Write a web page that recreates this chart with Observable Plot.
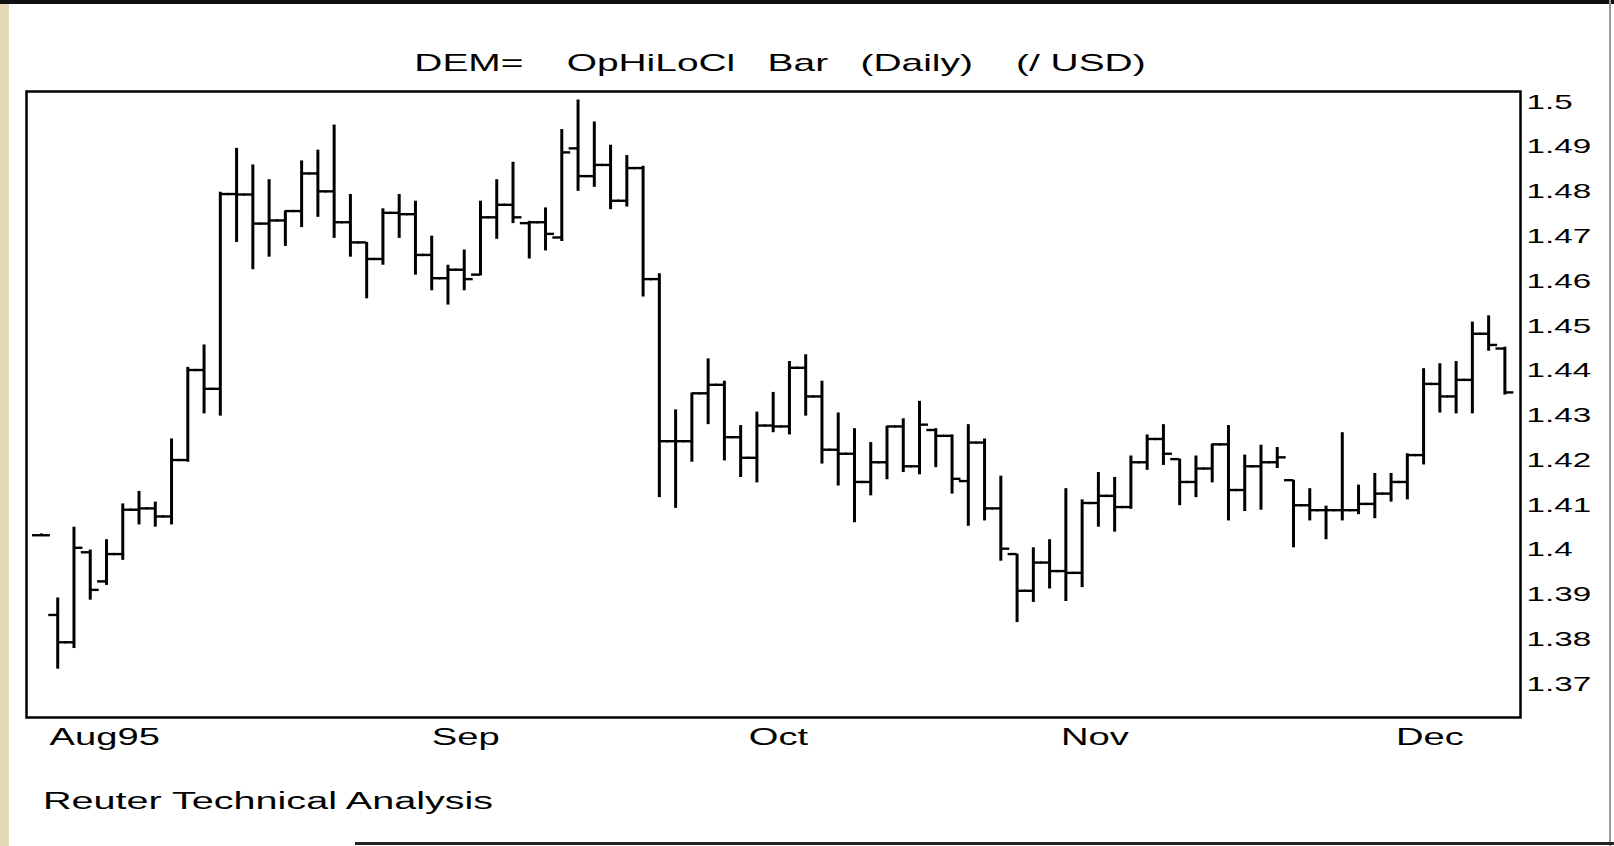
<!DOCTYPE html>
<html><head><meta charset="utf-8">
<script src="https://cdn.jsdelivr.net/npm/d3@7"></script>
<script src="https://cdn.jsdelivr.net/npm/@observablehq/plot@0.6"></script>
<style>
html,body{margin:0;padding:0;background:#fff;}
#page{position:relative;width:1614px;height:846px;overflow:hidden;background:#fff;font-family:"Liberation Sans",Arial,Helvetica,sans-serif;color:#000;}
#strip{position:absolute;left:0;top:0;width:9px;height:846px;background:#e4d8b6;}
#topline{position:absolute;left:0;top:0;width:1614px;height:4px;background:#111;}
#botline{position:absolute;left:355px;top:842px;width:1259px;height:3px;background:#222;}
#rightline{position:absolute;left:1609px;top:0;width:2px;height:846px;background:#999;}
#title{position:absolute;left:780px;top:51px;font-size:24px;line-height:24px;white-space:pre;transform-origin:center;transform:translateX(-50%) scaleX(1.62);}
#chart{position:absolute;left:0;top:80px;}
#caption{position:absolute;left:43px;top:790px;font-size:23px;line-height:23px;white-space:pre;transform-origin:left center;transform:scaleX(1.72);}
</style>
</head><body>
<div id="page">
  <div id="strip"></div>
  <div id="topline"></div>
  <div id="rightline"></div>
  <div id="botline"></div>
  <div id="title">DEM=    OpHiLoCl   Bar   (Daily)    (/ USD)</div>
  <div id="chart"></div>
  <div id="caption">Reuter Technical Analysis</div>
</div>
<script>
// Daily DEM per USD, Aug–Dec 1995 (one entry per trading day, in order)
const opens  = [1.4033,1.3855,1.3794,1.3995,1.3930,1.3991,1.4090,1.4093,1.4075,1.4201,1.4402,1.4360,1.4795,1.4794,1.4729,1.4736,1.4757,1.4841,1.4801,1.4732,1.4687,1.4650,1.4753,1.4750,1.4659,1.4607,1.4626,1.4615,1.4743,1.4771,1.4730,1.4732,1.4698,1.4897,1.4835,1.4860,1.4780,1.4853,1.4605,1.4243,1.4243,1.4350,1.4369,1.4252,1.4206,1.4278,1.4276,1.4407,1.4343,1.4224,1.4215,1.4152,1.4196,1.4276,1.4187,1.4268,1.4255,1.4154,1.4240,1.4093,1.3991,1.3909,1.3972,1.3953,1.3949,1.4105,1.4121,1.4096,1.4196,1.4248,1.4203,1.4152,1.4182,1.4236,1.4134,1.4187,1.4196,1.4156,1.4100,1.4089,1.4089,1.4089,1.4103,1.4126,1.4152,1.4212,1.4371,1.4343,1.4380,1.4483,1.4450];
const highs  = [1.4036,1.3893,1.4051,1.4000,1.4023,1.4103,1.4131,1.4107,1.4248,1.4408,1.4458,1.4799,1.4897,1.4860,1.4827,1.4757,1.4869,1.4893,1.4949,1.4794,1.4687,1.4762,1.4794,1.4779,1.4701,1.4636,1.4670,1.4779,1.4827,1.4866,1.4734,1.4764,1.4939,1.5005,1.4956,1.4904,1.4881,1.4857,1.4617,1.4313,1.4350,1.4427,1.4377,1.4278,1.4308,1.4352,1.4421,1.4436,1.4377,1.4306,1.4271,1.4240,1.4276,1.4293,1.4332,1.4271,1.4257,1.4280,1.4248,1.4165,1.3991,1.4005,1.4023,1.4137,1.4112,1.4173,1.4162,1.4210,1.4257,1.4280,1.4203,1.4210,1.4236,1.4278,1.4212,1.4234,1.4229,1.4156,1.4137,1.4098,1.4262,1.4145,1.4171,1.4171,1.4215,1.4405,1.4416,1.4421,1.4509,1.4523,1.4453];
const lows   = [1.4030,1.3734,1.3780,1.3888,1.3921,1.3977,1.4056,1.4051,1.4056,1.4196,1.4304,1.4299,1.4687,1.4626,1.4654,1.4678,1.4720,1.4743,1.4696,1.4654,1.4561,1.4636,1.4696,1.4614,1.4579,1.4547,1.4579,1.4612,1.4694,1.4729,1.4650,1.4668,1.4689,1.4801,1.4810,1.4760,1.4766,1.4565,1.4117,1.4093,1.4196,1.4280,1.4199,1.4162,1.4150,1.4262,1.4257,1.4299,1.4192,1.4143,1.4061,1.4121,1.4157,1.4173,1.4168,1.4184,1.4125,1.4053,1.4065,1.3975,1.3838,1.3883,1.3913,1.3885,1.3916,1.4051,1.4040,1.4091,1.4178,1.4189,1.4099,1.4117,1.4150,1.4065,1.4086,1.4089,1.4182,1.4005,1.4065,1.4023,1.4065,1.4079,1.4070,1.4107,1.4112,1.4190,1.4306,1.4304,1.4304,1.4444,1.4346];
const closes = [1.4033,1.3794,1.4005,1.3911,1.3991,1.4090,1.4093,1.4075,1.4201,1.4402,1.4360,1.4795,1.4794,1.4729,1.4736,1.4757,1.4841,1.4801,1.4732,1.4687,1.4650,1.4753,1.4750,1.4659,1.4607,1.4626,1.4605,1.4743,1.4771,1.4743,1.4732,1.4706,1.4888,1.4835,1.4860,1.4780,1.4853,1.4605,1.4243,1.4243,1.4350,1.4369,1.4252,1.4206,1.4278,1.4276,1.4407,1.4343,1.4224,1.4215,1.4152,1.4196,1.4276,1.4187,1.4280,1.4255,1.4159,1.4240,1.4093,1.4003,1.3909,1.3972,1.3953,1.3949,1.4105,1.4121,1.4096,1.4196,1.4248,1.4215,1.4152,1.4182,1.4236,1.4134,1.4187,1.4196,1.4207,1.4100,1.4089,1.4089,1.4089,1.4103,1.4126,1.4152,1.4212,1.4371,1.4343,1.4380,1.4483,1.4458,1.4352];

// axis ticks
const yTicks = [1.37,1.38,1.39,1.4,1.41,1.42,1.43,1.44,1.45,1.46,1.47,1.48,1.49,1.5];
const monthLabels = ["Aug95","Sep","Oct","Nov","Dec"];
const monthTicks = [0.5,24,43.5,62.7,83.3]; // trading-day index where each label starts

const bars = opens.map((o, i) => ({i, open: o, high: highs[i], low: lows[i], close: closes[i]}));

const chart = Plot.plot({
  width: 1614,
  height: 690,
  marginTop: 11,
  marginBottom: 53,
  marginLeft: 26,
  marginRight: 94,
  style: {background: "transparent", fontFamily: "'Liberation Sans', Arial, Helvetica, sans-serif", color: "#000"},
  x: {domain: [-0.92, 90.96], axis: null, label: null},
  y: {domain: [1.3626, 1.5024], axis: null, label: null},
  marks: [
    Plot.ruleX(bars, {x: "i", y1: "low", y2: "high", stroke: "#000", strokeWidth: 3}),
    Plot.ruleY(bars, {y: "open", x1: d => d.i - 0.55, x2: "i", stroke: "#000", strokeWidth: 2.4}),
    Plot.ruleY(bars, {y: "close", x1: "i", x2: d => d.i + 0.55, stroke: "#000", strokeWidth: 2.4}),
    Plot.axisY(yTicks, {anchor: "right", label: null, tickSize: 0, tickPadding: 6, fontSize: 20, tickFormat: d => String(d)}),
    Plot.axisX(monthTicks, {anchor: "bottom", label: null, tickSize: 0, tickPadding: 11, fontSize: 23, textAnchor: "start", tickFormat: d => monthLabels[monthTicks.indexOf(d)]}),
    Plot.frame({stroke: "#000", strokeWidth: 2.5})
  ]
});
chart.querySelectorAll("text").forEach(t => {
  const tr = t.getAttribute("transform") || "";
  t.setAttribute("transform", tr + " scale(1.66,1)");
});
document.getElementById("chart").appendChild(chart);
</script>
</body></html>
